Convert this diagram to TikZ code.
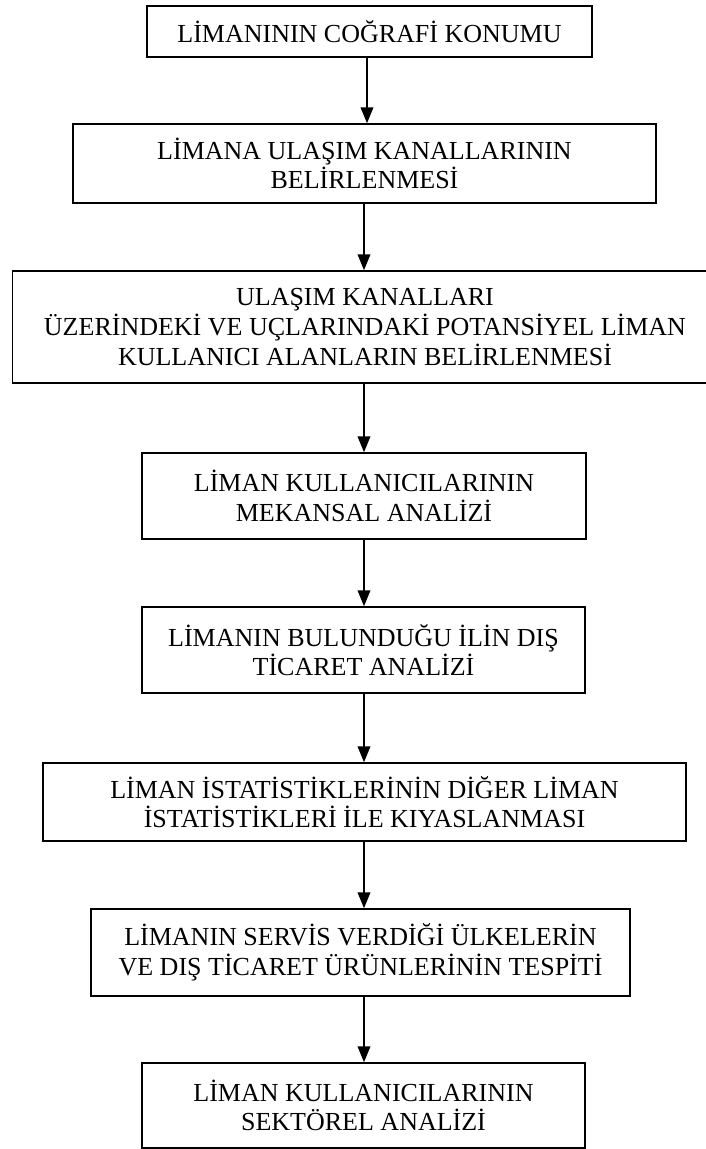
\documentclass[tikz,border=0pt]{standalone}
\usepackage{fontspec}
\setmainfont{Liberation Serif}
\usetikzlibrary{arrows.meta}
\begin{document}
\begin{tikzpicture}[x=0.75pt,y=-0.75pt,
  stepbox/.style={draw=black,line width=1.1pt,fill=white,align=center,inner sep=1pt,
    font=\fontsize{19.5pt}{22.3pt}\selectfont},
  arr/.style={line width=1.3pt,-{Triangle[length=12pt,width=9.5pt]}}]
\useasboundingbox (0,0) rectangle (706,1149);
\clip (0,0) rectangle (706,1149);
\fill[white] (0,0) rectangle (706,1149);
\coordinate (ax) at (364,0);
\coordinate (ax1) at (367,0);
\node[stepbox,minimum width=445*0.75pt,minimum height=51*0.75pt] (b1) at (369.5,31.5)
  {LİMANININ COĞRAFİ KONUMU};
\node[stepbox,minimum width=583*0.75pt,minimum height=79*0.75pt] (b2) at (364.5,163.5)
  {LİMANA ULAŞIM KANALLARININ\\BELİRLENMESİ};
\node[stepbox,minimum width=705*0.75pt,minimum height=112*0.75pt] (b3) at (365,327)
  {ULAŞIM KANALLARI\\ÜZERİNDEKİ VE UÇLARINDAKİ POTANSİYEL LİMAN\\KULLANICI ALANLARIN BELİRLENMESİ};
\node[stepbox,minimum width=444*0.75pt,minimum height=86*0.75pt] (b4) at (364,496)
  {LİMAN KULLANICILARININ\\MEKANSAL ANALİZİ};
\node[stepbox,minimum width=443*0.75pt,minimum height=86*0.75pt] (b5) at (363.5,650)
  {LİMANIN BULUNDUĞU İLİN DIŞ\\TİCARET ANALİZİ};
\node[stepbox,minimum width=643*0.75pt,minimum height=78*0.75pt] (b6) at (364.5,802)
  {LİMAN İSTATİSTİKLERİNİN DİĞER LİMAN\\İSTATİSTİKLERİ İLE KIYASLANMASI};
\node[stepbox,minimum width=539*0.75pt,minimum height=87*0.75pt] (b7) at (360.5,952.5)
  {LİMANIN SERVİS VERDİĞİ ÜLKELERİN\\VE DIŞ TİCARET ÜRÜNLERİNİN TESPİTİ};
\node[stepbox,minimum width=443*0.75pt,minimum height=85*0.75pt] (b8) at (363.5,1105.5)
  {LİMAN KULLANICILARININ\\SEKTÖREL ANALİZİ};
\draw[arr] (b1.south -| ax1) -- (b2.north -| ax1);
\draw[arr] (b2.south -| ax) -- (b3.north -| ax);
\draw[arr] (b3.south -| ax) -- (b4.north -| ax);
\draw[arr] (b4.south -| ax) -- (b5.north -| ax);
\draw[arr] (b5.south -| ax) -- (b6.north -| ax);
\draw[arr] (b6.south -| ax) -- (b7.north -| ax);
\draw[arr] (b7.south -| ax) -- (b8.north -| ax);
\end{tikzpicture}
\end{document}
